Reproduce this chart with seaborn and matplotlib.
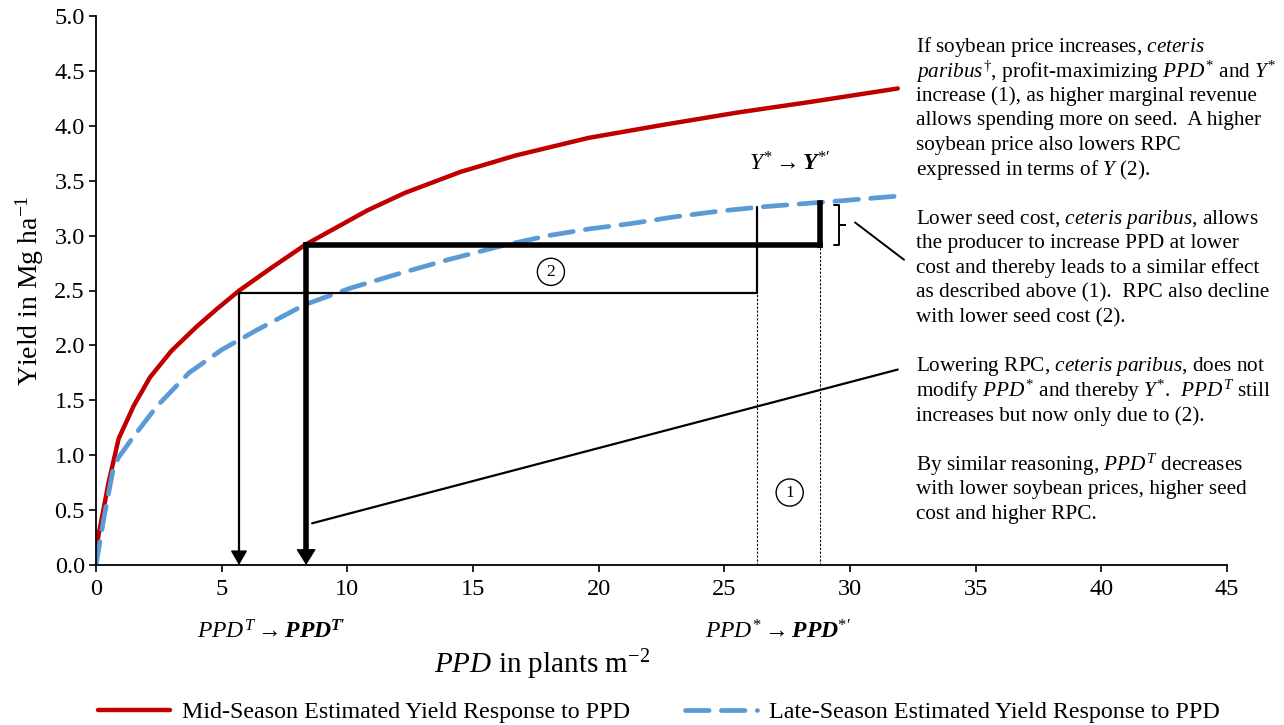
import matplotlib
matplotlib.use("Agg")
import numpy as np
import pandas as pd
import matplotlib.pyplot as plt
import seaborn as sns

# ---------------- data ----------------
mid_ppd = [0.0, 0.5, 0.9, 1.5, 2.15, 3.0, 4.0, 4.8, 5.7, 7.0, 8.35, 9.3, 10.8, 12.3, 14.5,
           16.7, 19.6, 22.6, 25.5, 28.5, 31.9]
mid_yield = [0.15, 0.75, 1.15, 1.45, 1.71, 1.95, 2.17, 2.33, 2.50, 2.71, 2.92, 3.04, 3.23,
             3.39, 3.58, 3.73, 3.89, 4.01, 4.12, 4.22, 4.34]
late_ppd = [0.0, 0.3, 0.68, 0.9, 1.4, 2.4, 3.7, 5.0, 6.4, 8.3, 10.1, 12.0, 14.0, 16.2, 18.0,
            19.6, 21.3, 23.0, 24.7, 26.4, 28.1, 29.8, 31.9]
late_yield = [0.0, 0.41, 0.87, 0.98, 1.14, 1.44, 1.75, 1.96, 2.14, 2.37, 2.52, 2.65, 2.78,
              2.91, 3.00, 3.06, 3.11, 3.17, 3.22, 3.26, 3.29, 3.32, 3.36]

series_names = ["Mid-Season Estimated Yield Response to PPD",
                "Late-Season Estimated Yield Response to PPD"]

x_ticks = [0, 5, 10, 15, 20, 25, 30, 35, 40, 45]
y_ticks = [0.0, 0.5, 1.0, 1.5, 2.0, 2.5, 3.0, 3.5, 4.0, 4.5, 5.0]

# annotation values
ppd_T, ppd_T_new = 5.69, 8.36
y_T, y_T_new = 2.48, 2.91
ppd_star, ppd_star_new = 26.3, 28.8
y_star, y_star_new = 3.26, 3.30

text_lines = [
    r"If soybean price increases, $\mathit{ceteris}$",
    r"$\mathit{paribus}^{\dagger}$, profit-maximizing $\mathit{PPD}^{*}$ and $\mathit{Y}^{*}$",
    r"increase (1), as higher marginal revenue",
    r"allows spending more on seed.  A higher",
    r"soybean price also lowers RPC",
    r"expressed in terms of $\mathit{Y}$ (2).",
    "",
    r"Lower seed cost, $\mathit{ceteris\ paribus}$, allows",
    r"the producer to increase PPD at lower",
    r"cost and thereby leads to a similar effect",
    r"as described above (1).  RPC also decline",
    r"with lower seed cost (2).",
    "",
    r"Lowering RPC, $\mathit{ceteris\ paribus}$, does not",
    r"modify $\mathit{PPD}^{*}$ and thereby $\mathit{Y}^{*}$.  $\mathit{PPD}^{T}$ still",
    r"increases but now only due to (2).",
    "",
    r"By similar reasoning, $\mathit{PPD}^{T}$ decreases",
    r"with lower soybean prices, higher seed",
    r"cost and higher RPC.",
]

# ---------------- style ----------------
sns.set_theme(style="white")
plt.rcParams["font.family"] = ["Liberation Serif", "DejaVu Serif"]
plt.rcParams["mathtext.fontset"] = "custom"
plt.rcParams["mathtext.rm"] = "Liberation Serif"
plt.rcParams["mathtext.it"] = "Liberation Serif:italic"
plt.rcParams["mathtext.bf"] = "Liberation Serif:bold"
try:
    plt.rcParams["mathtext.bfit"] = "Liberation Serif:italic:bold"
    BFIT = r"\mathbfit"
except KeyError:
    BFIT = r"\mathbf"

RED = "#C00000"
BLUE = "#5B9BD5"

fig = plt.figure(figsize=(12.84, 7.25), dpi=100)
ax = fig.add_axes([96 / 1284, 1 - 565 / 725, (1227 - 96) / 1284, (565 - 16) / 725])

df_mid = pd.DataFrame({"PPD": mid_ppd, "Yield": mid_yield})
df_late = pd.DataFrame({"PPD": late_ppd, "Yield": late_yield})

sns.lineplot(data=df_mid, x="PPD", y="Yield", ax=ax, color=RED, lw=3.2,
             label=series_names[0], sort=False)
sns.lineplot(data=df_late, x="PPD", y="Yield", ax=ax, color=BLUE, lw=3.4,
             label=series_names[1], sort=False, dashes=False)
ax.lines[0].set_solid_joinstyle("round")
ax.lines[1].set_dashes([5, 2.6])
ax.lines[1].set_dash_capstyle("round")

ax.set_xlim(0, 45)
ax.set_ylim(0, 5.0)
ax.set_xticks(x_ticks)
ax.set_yticks(y_ticks)
ax.set_xticklabels([str(v) for v in x_ticks])
ax.set_yticklabels([f"{v:.1f}" for v in y_ticks])
ax.tick_params(axis="both", labelsize=17.5, direction="out", length=5, width=1.2,
               color="black", labelcolor="black", bottom=True, left=True)
ax.tick_params(axis="x", pad=5)
ax.tick_params(axis="y", pad=3)
for s in ["top", "right"]:
    ax.spines[s].set_visible(False)
for s in ["left", "bottom"]:
    ax.spines[s].set_color("black")
    ax.spines[s].set_linewidth(1.3)

ax.set_ylabel(r"Yield in Mg ha$^{-1}$", fontsize=20, color="black", labelpad=6)
ax.set_xlabel(r"$\mathit{PPD}$ in plants m$^{-2}$", fontsize=21, color="black")
ax.xaxis.set_label_coords((542 - 96) / (1227 - 96), -(665 - 565) / (565 - 16))
ax.xaxis.label.set_va("center")

# ---------------- annotation lines ----------------
thin = 1.6
thick = 4.0
# thin RPC box
ax.plot([ppd_T, ppd_star], [y_T, y_T], color="black", lw=thin)
ax.plot([ppd_star, ppd_star], [y_T, y_star], color="black", lw=thin)
ax.plot([ppd_star, ppd_star], [0, y_T], color="black", lw=0.8, ls=(0, (2, 1.5)))
# thick RPC box
ax.plot([ppd_T_new, ppd_star_new], [y_T_new, y_T_new], color="black", lw=thick,
        solid_capstyle="projecting")
ax.plot([ppd_star_new, ppd_star_new], [y_T_new, y_star_new], color="black", lw=thick,
        solid_capstyle="projecting")
ax.plot([ppd_star_new, ppd_star_new], [0, y_T_new], color="black", lw=0.8, ls=(0, (2, 1.5)))
# arrows: shafts
ax.plot([ppd_T, ppd_T], [y_T, 0.1], color="black", lw=thin)
ax.plot([ppd_T_new, ppd_T_new], [y_T_new, 0.1], color="black", lw=thick,
        solid_capstyle="projecting")
# arrow heads
ax.annotate("", xy=(ppd_T, 0.0), xytext=(ppd_T, 0.3),
            arrowprops=dict(arrowstyle="-|>,head_length=0.45,head_width=0.26",
                            lw=1.0, color="black", shrinkA=0, shrinkB=0,
                            mutation_scale=20))
ax.annotate("", xy=(ppd_T_new, 0.0), xytext=(ppd_T_new, 0.3),
            arrowprops=dict(arrowstyle="-|>,head_length=0.5,head_width=0.31",
                            lw=1.0, color="black", shrinkA=0, shrinkB=0,
                            mutation_scale=20))
# bracket
bx0, bx1, bx2 = 29.35, 29.55, 29.8
ax.plot([bx0, bx1, bx1, bx2, bx1, bx1, bx0],
        [3.28, 3.28, 3.10, 3.10, 3.10, 2.91, 2.91], color="black", lw=1.4)
# connector lines
ax.plot([30.2, 32.15], [3.12, 2.78], color="black", lw=1.4, clip_on=False)
ax.plot([8.6, 31.9], [0.38, 1.78], color="black", lw=1.6, clip_on=False)

# circled numbers
for (cx, cy, lab) in [(18.1, 2.67, "2"), (27.6, 0.66, "1")]:
    ax.text(cx, cy, lab, fontsize=12.5, ha="center", va="center", color="black",
            bbox=dict(boxstyle="circle,pad=0.32", fc="white", ec="black", lw=1.0))

ax.text(27.6, 3.65, r"$\mathit{Y}^{*}\rightarrow" + BFIT + r"{Y}^{*\prime}$",
        fontsize=17, ha="center", va="center", color="black")

fig.text(271 / 1284, 1 - 632 / 725,
         r"$\mathit{PPD}^{T}\rightarrow" + BFIT + r"{PPD}^{" + BFIT + r"{T}\prime}$",
         fontsize=17, ha="center", va="center", color="black")
fig.text(778 / 1284, 1 - 632 / 725,
         r"$\mathit{PPD}^{*}\rightarrow" + BFIT + r"{PPD}^{*\prime}$",
         fontsize=17, ha="center", va="center", color="black")

# explanatory text block
y0 = 47
for i, line in enumerate(text_lines):
    if line == "":
        continue
    fig.text(916 / 1284, 1 - (y0 + i * 24.6) / 725, line, fontsize=15.3,
             ha="left", va="center", color="black")

# legend
ax.legend_.remove()
handles = ax.lines[:2]
leg = fig.legend(handles, series_names, loc="center", bbox_to_anchor=(659 / 1284, 1 - 712 / 725),
                 ncol=2, frameon=False, fontsize=17.3, handlelength=3.0,
                 handletextpad=0.5, columnspacing=2.3)
for t in leg.get_texts():
    t.set_color("black")

fig.savefig("out.png", dpi=100)
